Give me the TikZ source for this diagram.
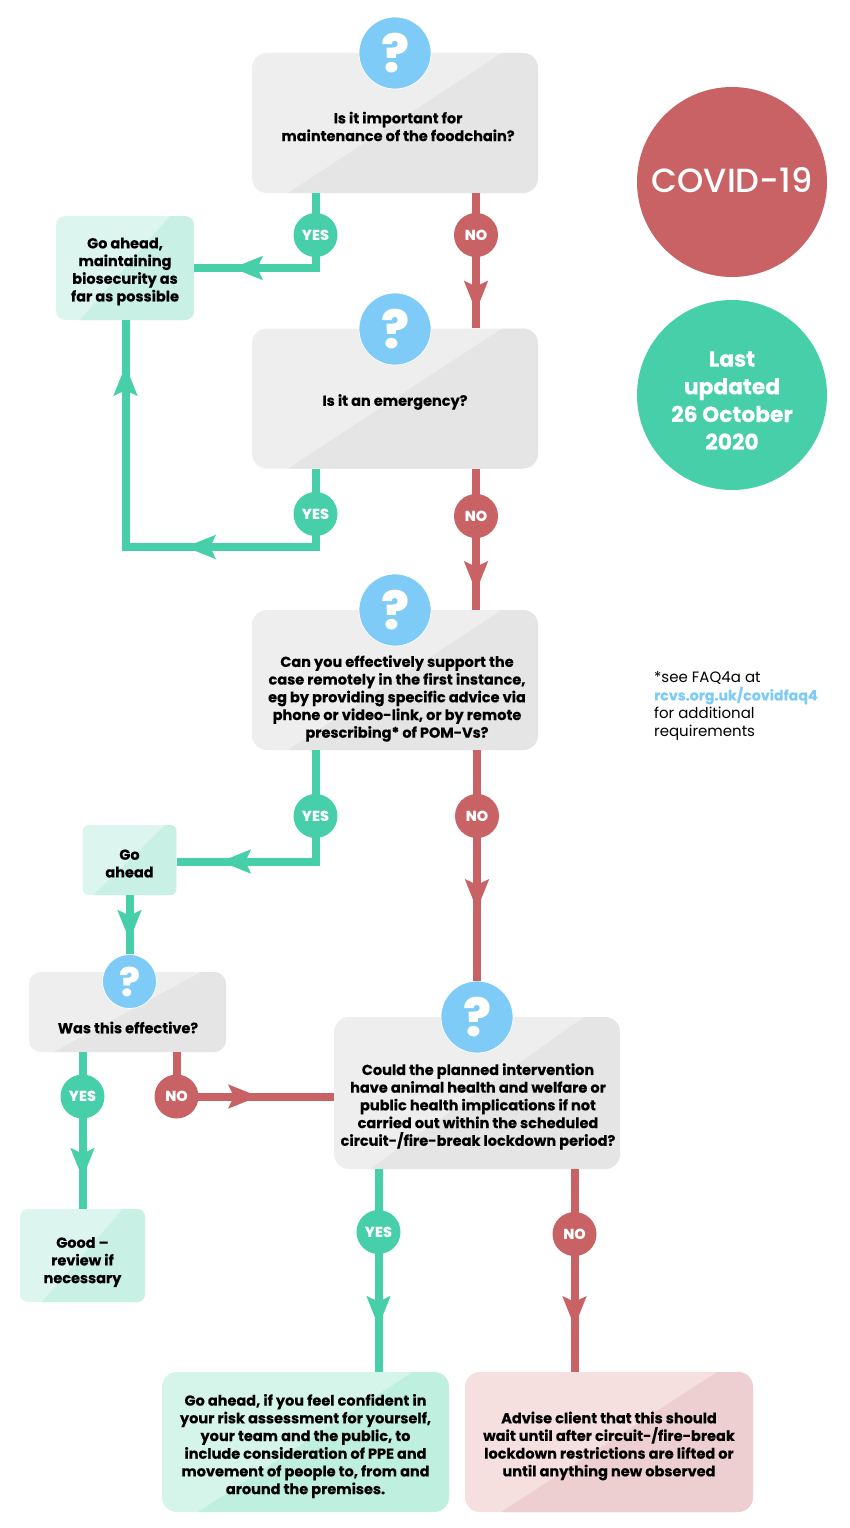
\documentclass[tikz,border=0pt]{standalone}
\usepackage{fontspec}
\setmainfont{Poppins}[BoldFeatures={FakeBold=0.2}]
\newfontfamily\heavyfont{Poppins ExtraBold}
\newfontfamily\mediumfont{Poppins Medium}
\usepackage{xcolor}
\usetikzlibrary{arrows.meta,decorations.markings}

\definecolor{yesgreen}{HTML}{46CFA9}
\definecolor{nored}{HTML}{C96264}
\definecolor{askblue}{HTML}{7DCBF6}
\definecolor{greylight}{HTML}{EEEEEE}
\definecolor{greydark}{HTML}{E5E5E5}
\definecolor{mintlight}{HTML}{DCF5EE}
\definecolor{mintdark}{HTML}{C8F0E5}
\definecolor{finallight}{HTML}{D6F5EA}
\definecolor{finaldark}{HTML}{BFEFDE}
\definecolor{pinklight}{HTML}{F5DFDF}
\definecolor{pinkdark}{HTML}{EECFD1}

\tikzset{
    twotone/.style n args={3}{fill=#1, inner sep=0pt, path picture={
        \fill[#2, sharp corners] ([xshift=#3]path picture bounding box.south west)
            -- ([xshift=-#3]path picture bounding box.north east)
            -- (path picture bounding box.north east)
            -- (path picture bounding box.south east) -- cycle;
    }},
    boxsize/.style 2 args={minimum width=#1, minimum height=#2},
    boxtext/.style={align=center, inner sep=0pt, font=\fontsize{14.5}{17.7}\selectfont\bfseries},
    dot/.style={circle, minimum size=44, inner sep=0pt, outer sep=-1pt, text=white,
        font=\fontsize{14.5}{17}\selectfont\heavyfont},
    yesdot/.style={dot, fill=yesgreen},
    nodot/.style={dot, fill=nored},
    askmark/.style={circle, fill=askblue, draw=white, line width=.7, minimum size=72, inner sep=0pt,
        text=white, font=\fontsize{52}{52}\selectfont\heavyfont},
    yesline/.style={draw=yesgreen, line width=8},
    noline/.style={draw=nored, line width=8},
    tipat/.style={postaction={decorate, decoration={markings,
        mark=at position #1 with {\arrow{Stealth[length=30pt,width=23pt,inset=5pt]}}}}},
    bigdisc/.style={circle, minimum size=190, inner sep=0pt},
    disctext/.style={align=center, inner sep=0pt, text=white},
    notetext/.style={align=left, inner sep=0pt, anchor=west, font=\fontsize{15}{18.2}\selectfont},
}

\begin{document}
\begin{tikzpicture}[x=1pt,y=-1pt]
    \useasboundingbox (0,0) rectangle (850,1528);

    % Question boxes
    \node[twotone={greylight}{greydark}{36}, boxsize={286}{140}, rounded corners=15] (q1) at (395,123) {};
    \node[twotone={greylight}{greydark}{36}, boxsize={286}{140}, rounded corners=15] (q2) at (395,398.5) {};
    \node[twotone={greylight}{greydark}{36}, boxsize={286}{140}, rounded corners=15] (q3) at (395,680) {};
    \node[twotone={greylight}{greydark}{25}, boxsize={197}{80}, rounded corners=12] (q4) at (127.5,1012) {};
    \node[twotone={greylight}{greydark}{36}, boxsize={286}{152}, rounded corners=15] (q5) at (477,1093) {};

    % Answer boxes
    \node[twotone={mintlight}{mintdark}{24}, boxsize={138}{104}, rounded corners=9] (ahead1) at (125,268) {};
    \node[twotone={mintlight}{mintdark}{11}, boxsize={94}{70}, rounded corners=6] (ahead2) at (129.5,860) {};
    \node[twotone={mintlight}{mintdark}{22}, boxsize={125}{93}, rounded corners=8] (good) at (82.5,1255.5) {};
    \node[twotone={finallight}{finaldark}{36}, boxsize={287}{140}, rounded corners=15] (ahead3) at (305.5,1442) {};
    \node[twotone={pinklight}{pinkdark}{36}, boxsize={288}{140}, rounded corners=15] (advise) at (609,1442) {};

    % Box texts
    \node[boxtext] (q1text) at (398,126.5) {Is it important for\\maintenance of the foodchain?};
    \node[boxtext] (q2text) at (395,402) {Is it an emergency?};
    \node[boxtext] (q3text) at (397,698.5) {Can you effectively support the\\case remotely in the first instance,\\eg by providing specific advice via\\phone or video-link, or by remote\\prescribing* of POM-Vs?};
    \node[boxtext] (q4text) at (128,1027.5) {Was this effective?};
    \node[boxtext] (q5text) at (478,1106.5) {Could the planned intervention\\have animal health and welfare or\\public health implications if not\\carried out within the scheduled\\circuit-/fire-break lockdown period?};
    \node[boxtext] (ahead1text) at (125,271.5) {Go ahead,\\maintaining\\biosecurity as\\far as possible};
    \node[boxtext] (ahead2text) at (129.5,863.5) {Go\\ahead};
    \node[boxtext] (goodtext) at (82.5,1262) {Good --\\review if\\necessary};
    \node[boxtext] (ahead3text) at (305.5,1446) {Go ahead, if you feel confident in\\your risk assessment for yourself,\\your team and the public, to\\include consideration of PPE and\\movement of people to, from and\\around the premises.};
    \node[boxtext] (advisetext) at (609,1446) {Advise client that this should\\wait until after circuit-/fire-break\\lockdown restrictions are lifted or\\until anything new observed};

    % Question marks
    \foreach \name/\pos in {mark1/{395,53}, mark2/{395,329}, mark3/{395,610}, mark5/{477,1017}} {
        \node[askmark] (\name) at (\pos) {?};
    }
    \node[askmark, minimum size=54, font=\fontsize{39}{39}\selectfont\heavyfont] (mark4) at (129.5,981.5) {?};

    % Yes and no dots
    \foreach \name/\pos in {yes1/{315.5,235}, yes2/{315.5,514}, yes3/{315.5,816}, yes4/{82.5,1096.5}, yes5/{378.5,1232}} {
        \node[yesdot] (\name) at (\pos) {YES};
    }
    \foreach \name/\pos in {no1/{476,235}, no2/{476,516}, no3/{477,816}, no4/{176.5,1096.5}, no5/{574.5,1234}} {
        \node[nodot] (\name) at (\pos) {NO};
    }

    % Yes connectors
    \coordinate (turn) at (125.5,547);
    \draw[yesline] (q1.south -| yes1) -- (yes1);
    \draw[yesline, tipat=0.715] (yes1) |- (ahead1);
    \draw[yesline] (q2.south -| yes2) -- (yes2);
    \draw[yesline, tipat=0.332, tipat=0.895] (yes2) |- (turn) -- (turn |- ahead1.south);
    \draw[yesline] (q3.south -| yes3) -- (yes3);
    \draw[yesline, tipat=0.733] (yes3) |- ([yshift=-1.5]ahead2.east);
    \draw[yesline, tipat=0.77] (ahead2) -- (mark4);
    \draw[yesline] (q4.south -| yes4) -- (yes4);
    \draw[yesline, tipat=0.67] (yes4) -- (good);
    \draw[yesline] (q5.south -| yes5) -- (yes5);
    \draw[yesline, tipat=0.62] (yes5) -- (yes5 |- ahead3.north);

    % No connectors
    \draw[noline] (q1.south -| no1) -- (no1);
    \draw[noline, tipat=0.767] (no1) -- (no1 |- q2.north);
    \draw[noline] (q2.south -| no2) -- (no2);
    \draw[noline, tipat=0.753] (no2) -- (no2 |- q3.north);
    \draw[noline] (q3.south -| no3) -- (no3);
    \draw[noline, tipat=0.507] (no3) -- (mark5);
    \draw[noline] (q4.south -| no4) -- (no4);
    \draw[noline, tipat=0.45] (no4) -- (no4 -| q5.west);
    \draw[noline] (q5.south -| no5) -- (no5);
    \draw[noline, tipat=0.615] (no5) -- (no5 |- advise.north);

    % Discs and side note
    \node[bigdisc, fill=nored] (covid) at (732,182) {};
    \node[disctext, font=\fontsize{33.5}{33.5}\selectfont\mediumfont] (covidtext) at (732,180) {COVID-19};
    \node[bigdisc, fill=yesgreen] (updated) at (732,395) {};
    \node[disctext, font=\fontsize{21.8}{27.7}\selectfont\bfseries] (updatedtext) at (732,400.5) {Last\\updated\\26 October\\2020};
    \node[notetext] (note) at (654,706) {*see FAQ4a at\\{\color{askblue}\fontsize{14.2}{18.2}\selectfont\bfseries rcvs.org.uk/covidfaq4}\\for additional\\requirements};
\end{tikzpicture}
\end{document}
